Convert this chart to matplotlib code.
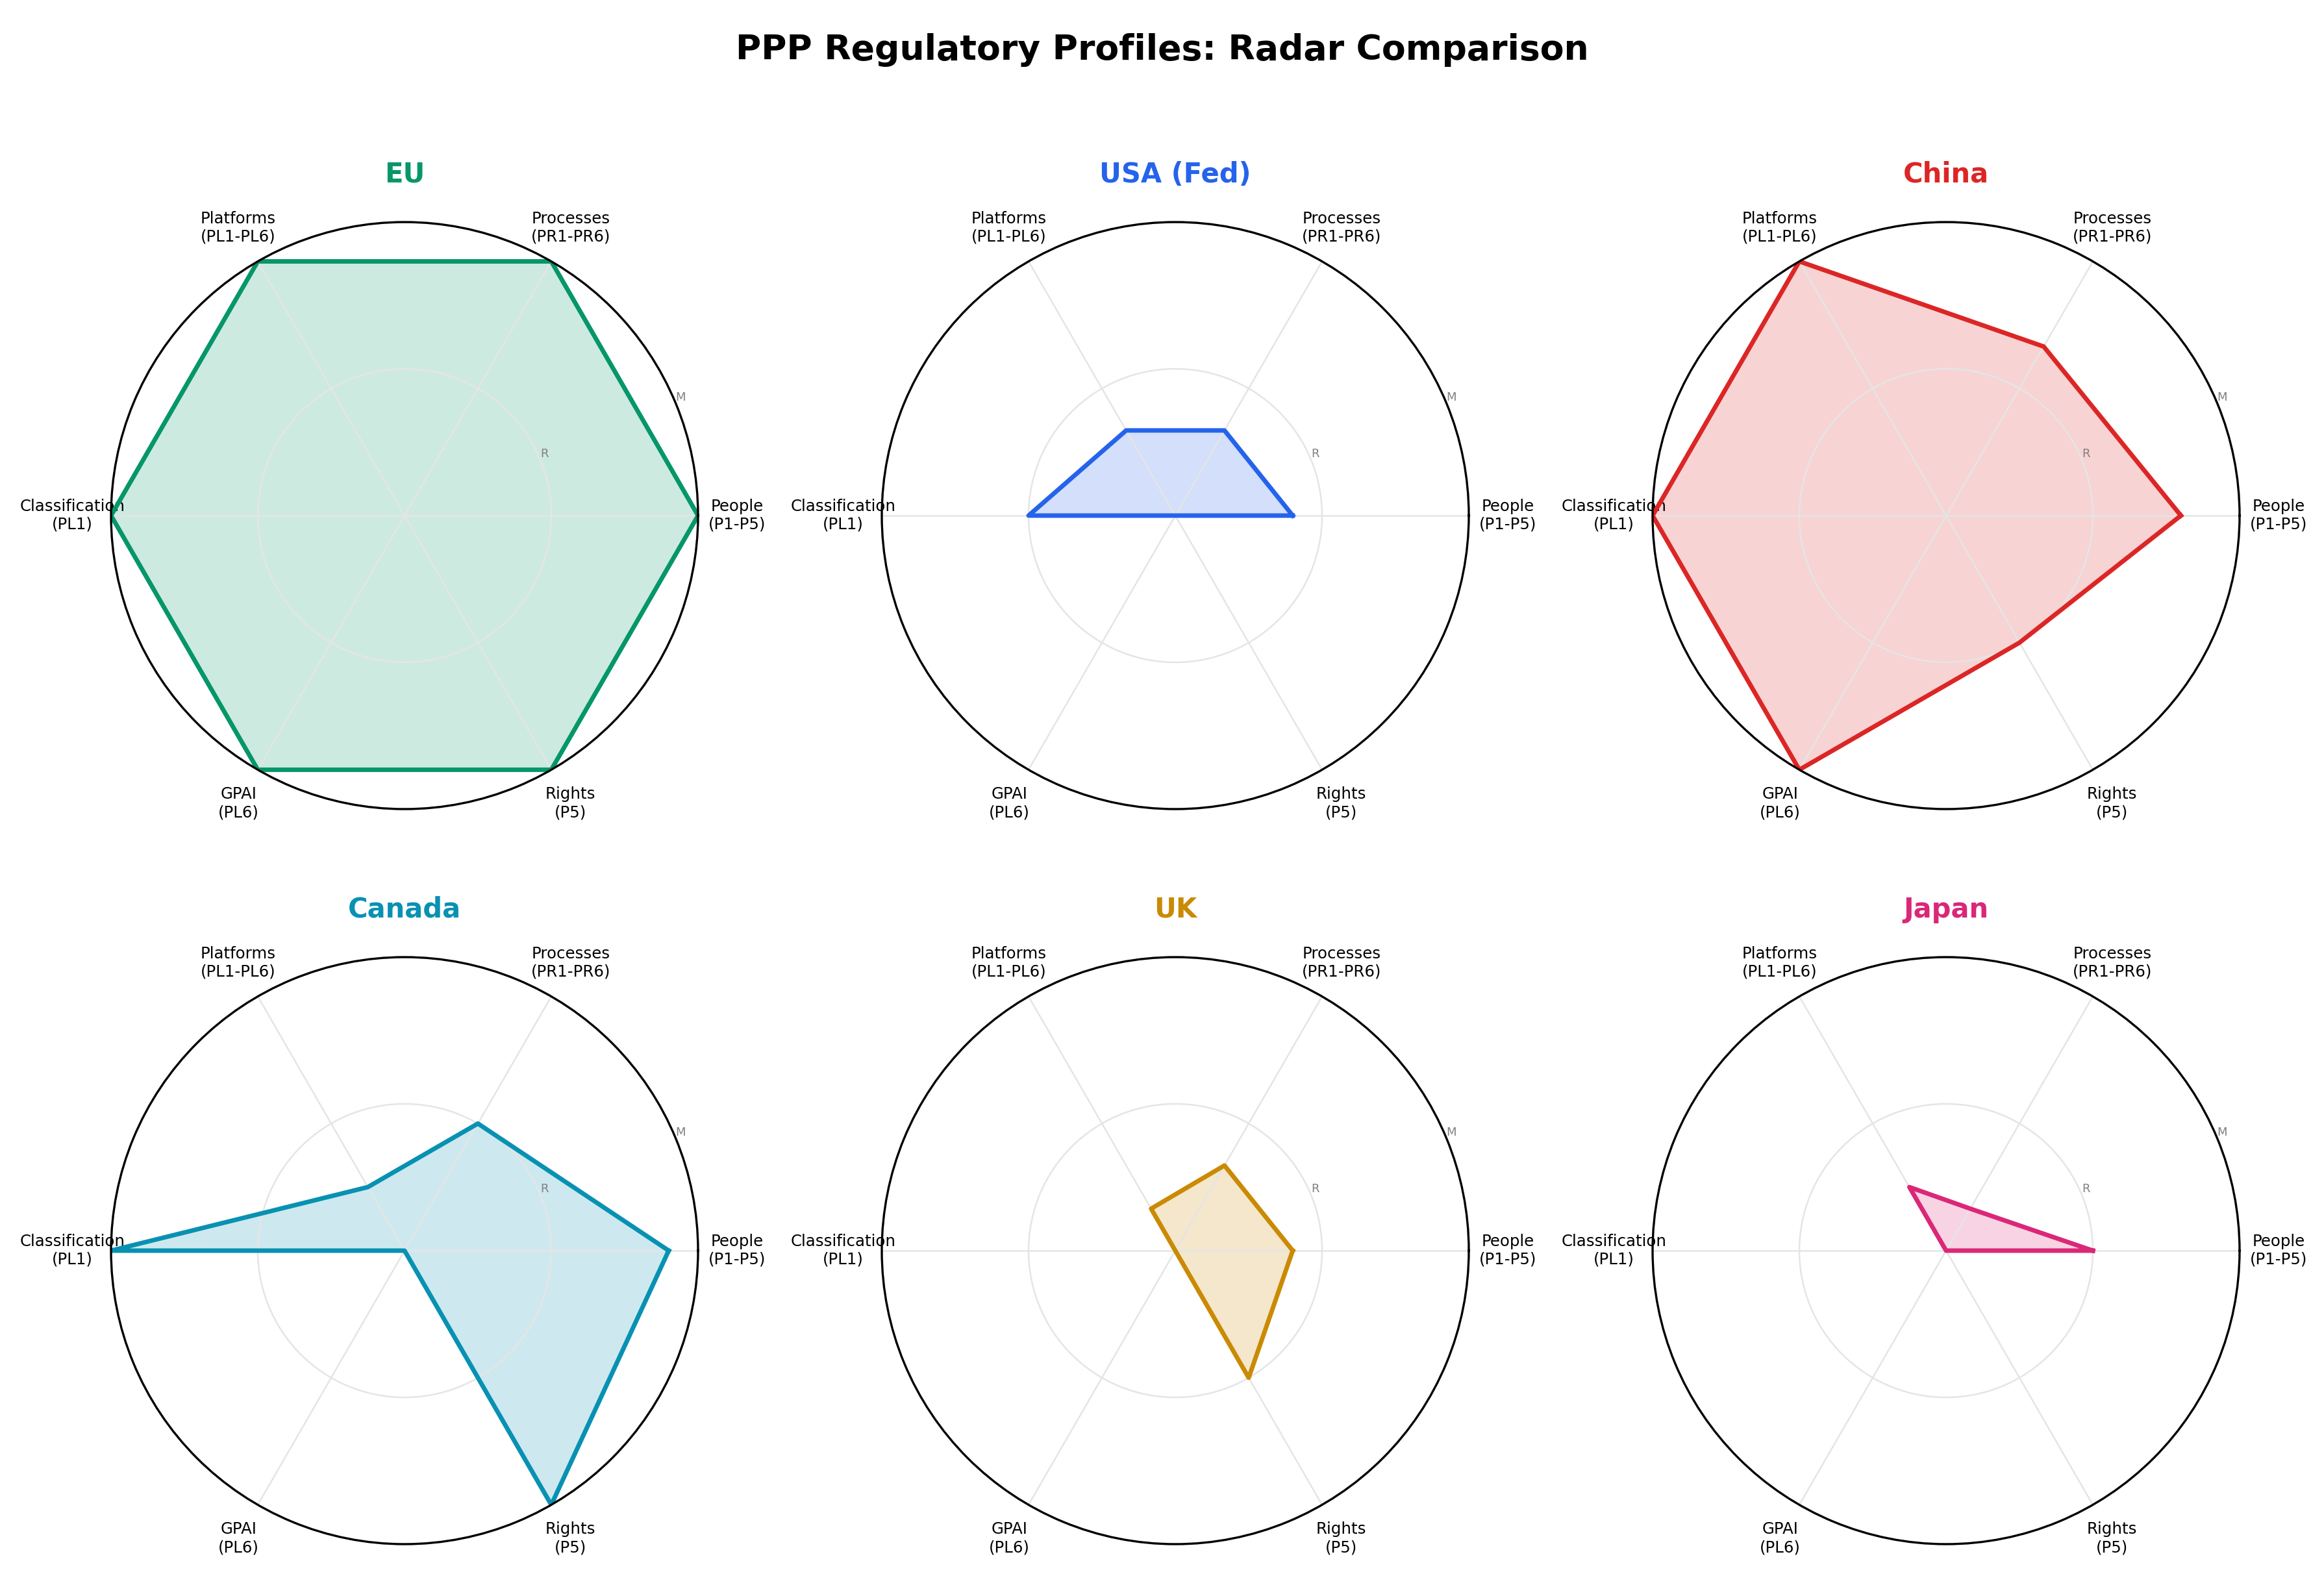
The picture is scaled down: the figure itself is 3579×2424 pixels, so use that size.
import numpy as np
import matplotlib
matplotlib.use("Agg")
import matplotlib.pyplot as plt

categories = ["People\n(P1-P5)", "Processes\n(PR1-PR6)", "Platforms\n(PL1-PL6)",
              "Classification\n(PL1)", "GPAI\n(PL6)", "Rights\n(P5)"]
regions = ["EU", "USA (Fed)", "China", "Canada", "UK", "Japan"]
eu_vals = [2.0, 2.0, 2.0, 2.0, 2.0, 2.0]
usa_vals = [0.8, 0.67, 0.67, 1.0, 0.0, 0.0]
china_vals = [1.6, 1.33, 2.0, 2.0, 2.0, 1.0]
canada_vals = [1.8, 1.0, 0.5, 2.0, 0.0, 2.0]
uk_vals = [0.8, 0.67, 0.33, 0.0, 0.0, 1.0]
japan_vals = [1.0, 0.33, 0.5, 0.0, 0.0, 0.0]
all_vals = [eu_vals, usa_vals, china_vals, canada_vals, uk_vals, japan_vals]
colors = ["#059669", "#2563eb", "#dc2626", "#0891b2", "#ca8a04", "#db2777"]
r_ticks = [1, 2]
r_labels = ["R", "M"]

W, H = 3579, 2424
dpi = 200
fig = plt.figure(figsize=(W / dpi, H / dpi), dpi=dpi)

angles = np.linspace(0, 2 * np.pi, len(categories), endpoint=False)
angles_closed = np.concatenate([angles, angles[:1]])

cx = [623, 1810, 2997]
cy = [794, 1926]
rad = 452

for i, (name, vals, col) in enumerate(zip(regions, all_vals, colors)):
    r, c = divmod(i, 3)
    x0 = (cx[c] - rad) / W
    y0 = 1 - (cy[r] + rad) / H
    ax = fig.add_axes([x0, y0, 2 * rad / W, 2 * rad / H], projection="polar")
    v = np.array(vals + vals[:1])
    ax.plot(angles_closed, v, color=col, linewidth=2.5)
    ax.fill(angles_closed, v, color=col, alpha=0.2)
    ax.set_ylim(0, 2)
    ax.set_xticks(angles)
    ax.set_xticklabels(categories, fontsize=8.8)
    ax.tick_params(axis="x", pad=11)
    ax.set_yticks(r_ticks)
    ax.set_yticklabels(r_labels, fontsize=6.5, color="gray")
    ax.grid(color="#e5e5e5", linewidth=0.9)
    ax.spines["polar"].set_color("black")
    ax.spines["polar"].set_linewidth(1.2)
    ax.set_title(name, color=col, fontsize=15, fontweight="bold", pad=22)

fig.suptitle("PPP Regulatory Profiles: Radar Comparison", fontsize=19.3,
             fontweight="bold", y=0.979)
fig.savefig("out.png", dpi=dpi)
